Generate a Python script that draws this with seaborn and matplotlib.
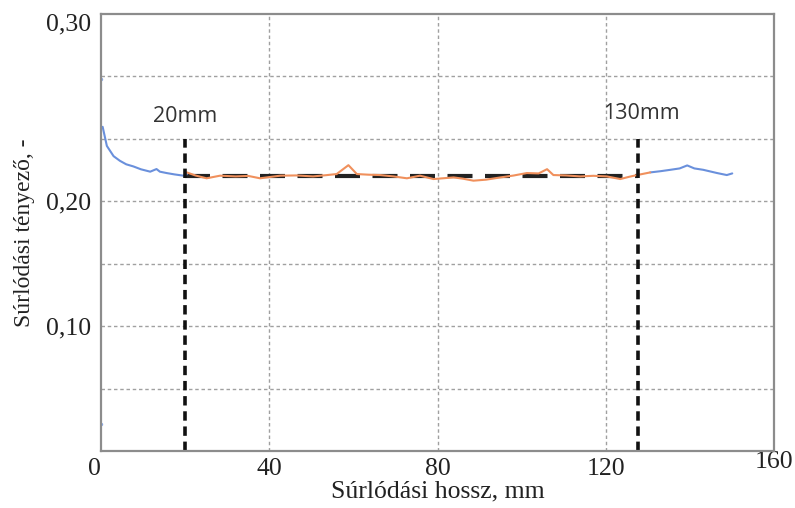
import matplotlib
matplotlib.use("Agg")
import matplotlib.pyplot as plt
import seaborn as sns
import pandas as pd

# ---- data ----
head_x = [0.4, 1.4, 3.0, 4.5, 6.0, 7.7, 9.5, 11.7, 13.2, 14.0, 15.6, 17.5, 19.6, 20.4]
head_y = [0.2595, 0.2442, 0.236, 0.2323, 0.2295, 0.2278, 0.2255, 0.2236, 0.2257, 0.2236, 0.2225, 0.2214, 0.2204, 0.2215]

mid_x = [20.4, 22.5, 25.1, 28.3, 32.0, 35.0, 37.8, 42.6, 46.5, 50.4, 53.5, 56.0, 58.8, 60.8, 63.5, 66.3,
         69.5, 72.7, 75.8, 79.0, 83.8, 86.0, 88.5, 91.5, 94.9, 98.0, 101.2, 104.0, 106.0, 107.5, 110.5,
         113.9, 117.0, 120.2, 123.4, 125.5, 127.4, 130.5]
mid_y = [0.2230, 0.2205, 0.2183, 0.2204, 0.2198, 0.2202, 0.2183, 0.2204, 0.2206, 0.2198, 0.2208, 0.2217, 0.2288,
         0.2217, 0.2212, 0.2209, 0.2198, 0.2183, 0.2204, 0.2177, 0.2190, 0.2180, 0.2164, 0.2172, 0.2190, 0.2205,
         0.2225, 0.2222, 0.2256, 0.2209, 0.2206, 0.2198, 0.2203, 0.2198, 0.2177, 0.2195, 0.2209, 0.2230]

tail_x = [130.5, 133.0, 135.3, 137.5, 139.3, 141.0, 143.1, 146.4, 148.7, 150.0]
tail_y = [0.2230, 0.2240, 0.2251, 0.2262, 0.2286, 0.2262, 0.2251, 0.2225, 0.2209, 0.2222]

# isolated stray points at the left edge
stray_x = [0.1, 0.1]
stray_y = [0.022, 0.298]

limit_x = [20, 127.5]          # 20mm and 130mm markers
mean_level = 0.2204
marker_labels = ["20mm", "130mm"]

x_ticks = [0, 40, 80, 120, 160]
y_ticks = [0.10, 0.20, 0.35]
y_ticklabels = ["0,10", "0,20", "0,30"]
x_label = "Súrlódási hossz, mm"
y_label = "Súrlódási tényező, -"

# ---- plot ----
sns.set_style("white")
plt.rcParams["font.family"] = ["Liberation Serif", "DejaVu Serif"]

fig = plt.figure(figsize=(7.95, 5.08), dpi=100)
ax = fig.add_axes([0.127, 0.112, 0.847, 0.861])

grid_kw = dict(color="#a0a0a0", lw=1.0, ls=(0, (2.5, 2.0)), zorder=0)
for gy in [0.05, 0.10, 0.15, 0.20, 0.25, 0.30]:
    ax.axhline(gy, **grid_kw)
for gx in [40, 80, 120]:
    ax.axvline(gx, **grid_kw)

df_head = pd.DataFrame({"x": head_x, "y": head_y})
df_mid = pd.DataFrame({"x": mid_x, "y": mid_y})
df_tail = pd.DataFrame({"x": tail_x, "y": tail_y})
df_stray = pd.DataFrame({"x": stray_x, "y": stray_y})

ax.hlines(mean_level, limit_x[0], limit_x[1], colors="#222222", lw=3,
          linestyles=(0, (6, 3)), zorder=2)
sns.lineplot(data=df_head, x="x", y="y", ax=ax, color="#6a90dc", lw=1.5, sort=False, zorder=3)
sns.lineplot(data=df_tail, x="x", y="y", ax=ax, color="#6a90dc", lw=1.5, sort=False, zorder=3)
sns.lineplot(data=df_mid, x="x", y="y", ax=ax, color="#f0905c", lw=1.5, sort=False, zorder=3)
sns.scatterplot(data=df_stray, x="x", y="y", ax=ax, color="#8aa8e4", s=6, linewidth=0, zorder=3)

for lx in limit_x:
    ax.vlines(lx, 0, 0.25, colors="#111111", lw=2.6, linestyles=(0, (2.6, 1.6)), zorder=4)
ax.text(20, 0.268, marker_labels[0], ha="center", va="center", fontsize=15.5,
        family=["Open Sans", "DejaVu Sans"], color="#333333")
ax.text(128.4, 0.2705, marker_labels[1], ha="center", va="center", fontsize=15.5,
        family=["Open Sans", "DejaVu Sans"], color="#333333")

ax.set_xlim(0, 160)
ax.set_ylim(0, 0.35)
ax.set_xticks(x_ticks)
ax.set_xticklabels([str(t) for t in x_ticks])
ax.set_yticks(y_ticks)
ax.set_yticklabels(y_ticklabels)
ax.tick_params(axis="both", length=0, labelsize=18.5, colors="#222222")
ax.tick_params(axis="x", pad=5)
ax.tick_params(axis="y", pad=7)
xt = ax.xaxis.get_major_ticks()
xt[0].label1.set_horizontalalignment("right")
xt[-1].set_pad(0)
yt = ax.yaxis.get_major_ticks()
yt[-1].label1.set_verticalalignment("top")

ax.set_xlabel(x_label, fontsize=18.5, color="#222222", labelpad=0)
ax.set_ylabel(y_label, fontsize=17, color="#222222", labelpad=8)

for sp in ax.spines.values():
    sp.set_color("#8c8c8c")
    sp.set_linewidth(1.6)
    sp.set_zorder(5)

fig.savefig("out.png", dpi=100)
